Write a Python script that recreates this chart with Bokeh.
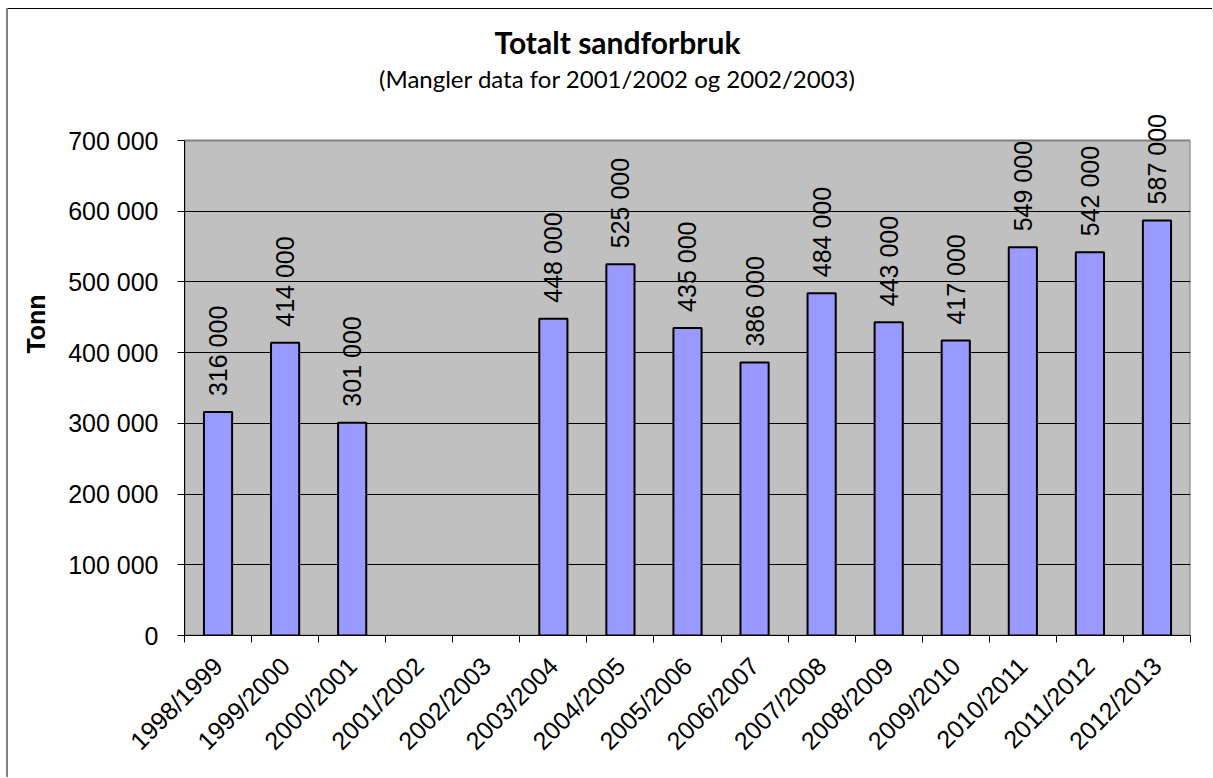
import math
from bokeh.plotting import figure
from bokeh.models import FixedTicker, ColumnDataSource, LabelSet, Label, Range1d
from bokeh.embed import file_html
from bokeh.resources import INLINE
from bokeh.core.properties import value

# ---- data ----
seasons = ["1998/1999", "1999/2000", "2000/2001", "2001/2002", "2002/2003",
           "2003/2004", "2004/2005", "2005/2006", "2006/2007", "2007/2008",
           "2008/2009", "2009/2010", "2010/2011", "2011/2012", "2012/2013"]
tonnes = [316000, 414000, 301000, None, None,
          448000, 525000, 435000, 386000, 484000,
          443000, 417000, 549000, 542000, 587000]
y_ticks = [0, 100000, 200000, 300000, 400000, 500000, 600000, 700000]
title_text = "Totalt sandforbruk"
subtitle_text = "(Mangler data for 2001/2002 og 2002/2003)"
y_label = "Tonn"


def fmt(v):
    return f"{v:,}".replace(",", " ")


n = len(seasons)
y_max = y_ticks[-1]
centers = [i + 0.5 for i in range(n)]
bx = [centers[i] for i, v in enumerate(tonnes) if v is not None]
by = [v for v in tonnes if v is not None]
src = ColumnDataSource(dict(x=bx, top=by, label=[fmt(v) for v in by]))

AX_FONT = "Liberation Sans"

# layout in pixels (figure coordinates)
W, H = 1212, 777
LEFT = 184
PLOT_W = 1006
RIGHT = W - LEFT - PLOT_W
PLOT_TOP = 140          # y pixel of the 700 000 line
PLOT_H = 495            # height of grey plot area
FRAME_TOP = 12          # frame extends above grey area so labels are not clipped
BOTTOM = H - PLOT_TOP - PLOT_H
FRAME_H = PLOT_TOP + PLOT_H - FRAME_TOP
y_top = y_max * FRAME_H / PLOT_H

p = figure(width=W, height=H,
           x_range=Range1d(0, n), y_range=Range1d(0, y_top),
           output_backend="svg", toolbar_location=None,
           min_border_left=LEFT, min_border_right=RIGHT,
           min_border_top=FRAME_TOP, min_border_bottom=BOTTOM)

p.background_fill_color = None
p.border_fill_color = None
p.outline_line_color = None

# grey plot area
p.quad(left=[0], right=[n], bottom=[0], top=[y_max],
       fill_color="#C0C0C0", line_color="#808080", line_width=2, level="image")

p.vbar(x="x", top="top", width=0.42, bottom=0, source=src,
       fill_color="#9999FF", line_color="black", line_width=2)

labels = LabelSet(x="x", y="top", text="label", source=src,
                  angle=math.pi / 2, text_align="left", text_baseline="middle",
                  y_offset=16, text_font=value(AX_FONT), text_font_size="25px",
                  text_color="black")
p.add_layout(labels)

# y axis
yax = p.yaxis[0]
yax.bounds = (0, y_max)
yax.ticker = FixedTicker(ticks=y_ticks, minor_ticks=[])
yax.major_label_overrides = {t: fmt(t) for t in y_ticks}
yax.major_label_text_font = AX_FONT
yax.major_label_text_font_size = "25px"
yax.major_label_text_color = "black"
yax.major_tick_in = 0
yax.major_tick_out = 7
yax.major_tick_line_color = "black"
yax.minor_tick_line_color = None
yax.axis_line_color = "black"
yax.major_label_standoff = 19
yax.axis_label = y_label
yax.axis_label_text_font = AX_FONT
yax.axis_label_text_font_style = "bold"
yax.axis_label_text_font_size = "25px"
yax.axis_label_text_color = "black"
yax.axis_label_standoff = 15

# x axis
xax = p.xaxis[0]
xax.ticker = FixedTicker(ticks=centers, minor_ticks=list(range(n + 1)))
xax.major_label_overrides = {c: s for c, s in zip(centers, seasons)}
xax.major_label_orientation = math.pi / 4
xax.major_label_text_font = AX_FONT
xax.major_label_text_font_size = "25px"
xax.major_label_text_color = "black"
xax.major_tick_line_color = None
xax.major_tick_in = 0
xax.major_tick_out = 8
xax.minor_tick_in = 0
xax.minor_tick_out = 7
xax.minor_tick_line_color = "black"
xax.axis_line_color = "black"
xax.major_label_standoff = 18

p.xgrid.grid_line_color = None
p.ygrid.ticker = FixedTicker(ticks=y_ticks[1:-1])
p.ygrid.grid_line_color = "black"
p.ygrid.grid_line_width = 1

# titles (screen units: from frame left / frame bottom)
p.add_layout(Label(x=433, y=594, x_units="screen", y_units="screen",
                   text=title_text, text_font="Lato", text_font_style="bold",
                   text_font_size="30px", text_align="center",
                   text_baseline="alphabetic", text_color="black"))
p.add_layout(Label(x=433, y=557, x_units="screen", y_units="screen",
                   text=subtitle_text, text_font="Lato",
                   text_font_size="24px", text_align="center",
                   text_baseline="alphabetic", text_color="black"))

# chart-area border: only its left and top edges are visible in the reference
p.styles = {"background": "white",
            "box-shadow": ("inset 6px 0 0 0 white, inset 0 8px 0 0 white, "
                           "inset 8px 0 0 0 #808080, inset 0 9px 0 0 black")}

open("out.html", "w").write(file_html(p, INLINE))
